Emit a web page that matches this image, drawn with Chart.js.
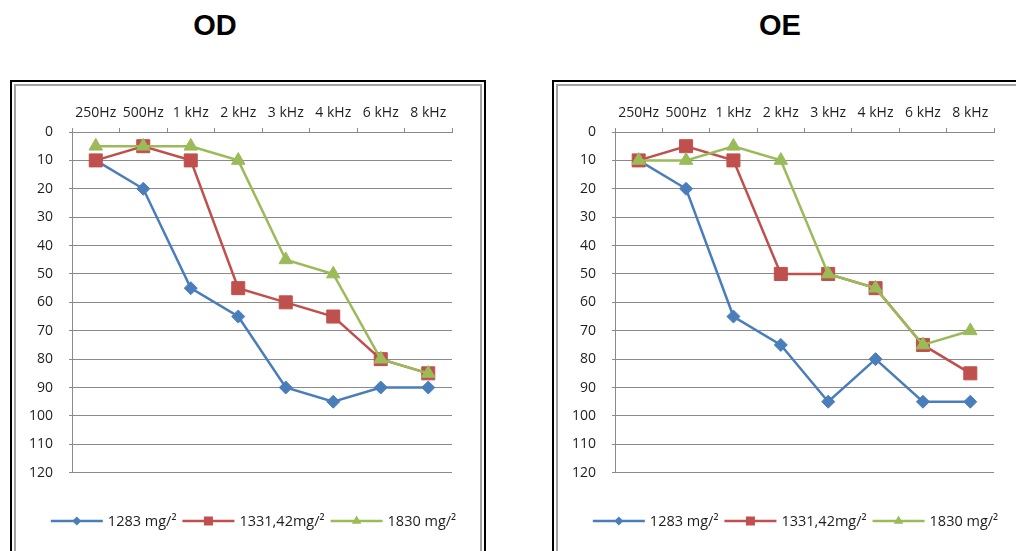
<!DOCTYPE html>
<html>
<head>
<meta charset="utf-8">
<script src="https://cdn.jsdelivr.net/npm/chart.js@4/dist/chart.umd.min.js"></script>
<style>
  html, body { margin: 0; padding: 0; background: #fff; }
  body { width: 1016px; height: 551px; overflow: hidden; position: relative; }
  .title {
    position: absolute; top: 9px; width: 120px; text-align: center;
    font: bold 29px "Liberation Sans", Arial, sans-serif; color: #000;
  }
  .box {
    position: absolute; top: 80px; width: 472px; height: 520px;
    border: 2px solid #000; box-sizing: content-box;
  }
  .inner {
    position: absolute; left: 2px; top: 2px; right: 2px; bottom: 2px;
    border: 2px solid #a3a3a3;
  }
  .inner canvas { position: absolute; left: 0; top: 0; }
</style>
</head>
<body>
<div class="title" style="left:155px">OD</div>
<div class="title" style="left:720px">OE</div>
<div class="box" style="left:10px"><div class="inner"><canvas id="od" width="464" height="465"></canvas></div></div>
<div class="box" style="left:552px"><div class="inner"><canvas id="oe" width="464" height="465"></canvas></div></div>
<script>
// Test frequencies (top axis) and hearing levels in dB (reversed y axis)
const frequencies = ['250Hz', '500Hz', '1 kHz', '2 kHz', '3 kHz', '4 kHz', '6 kHz', '8 kHz'];
const seriesLabels = ['1283 mg/\u00B2', '1331,42mg/\u00B2', '1830 mg/\u00B2'];
const levelMin = 0;
const levelMax = 120;
const levelStep = 10;

// Right ear (OD)
const odDose1283 = [10, 20, 55, 65, 90, 95, 90, 90];
const odDose1331 = [10, 5, 10, 55, 60, 65, 80, 85];
const odDose1830 = [5, 5, 5, 10, 45, 50, 80, 85];

// Left ear (OE)
const oeDose1283 = [10, 20, 65, 75, 95, 80, 95, 95];
const oeDose1331 = [10, 5, 10, 50, 50, 55, 75, 85];
const oeDose1830 = [10, 10, 5, 10, 50, 55, 75, 70];

const seriesColors = ['#4a7ebb', '#c0504d', '#9bbb59'];
const seriesMarkers = ['rectRot', 'rect', 'triangle'];
const markerRadius = [6.5, 9.2, 7.8];

const TICK_FONT = { family: "'Open Sans', 'Liberation Sans', sans-serif", size: 14 };
const TEXT_COLOR = '#1e1e1e';
const GRID_COLOR = '#8a8a8a';

// Legend drawn as Excel-style entries: a line with the marker in its middle
function drawLegendMarker(ctx, style, x, y, color) {
  ctx.fillStyle = color;
  ctx.beginPath();
  if (style === 'rectRot') {
    const s = 4.5;
    ctx.moveTo(x, y - s); ctx.lineTo(x + s, y); ctx.lineTo(x, y + s); ctx.lineTo(x - s, y);
  } else if (style === 'rect') {
    const s = 4.5;
    ctx.rect(x - s, y - s, 2 * s, 2 * s);
  } else {
    const r = 5.5;
    ctx.moveTo(x, y - r);
    ctx.lineTo(x + r * 0.866, y + r * 0.5);
    ctx.lineTo(x - r * 0.866, y + r * 0.5);
  }
  ctx.closePath();
  ctx.fill();
}

const lineLegend = {
  id: 'lineLegend',
  afterDraw(chart, args, opts) {
    const ctx = chart.ctx;
    ctx.save();
    ctx.font = opts.font;
    const items = chart.data.datasets.map(ds => ({ ds, w: ctx.measureText(ds.label).width }));
    const total = items.reduce((s, it) => s + opts.lineLen + opts.textGap + it.w, 0)
      + opts.itemGap * (items.length - 1);
    let x = opts.centerX - total / 2;
    const y = opts.y;
    items.forEach(({ ds, w }) => {
      ctx.strokeStyle = ds.borderColor;
      ctx.lineWidth = 2.5;
      ctx.beginPath();
      ctx.moveTo(x, y);
      ctx.lineTo(x + opts.lineLen, y);
      ctx.stroke();
      drawLegendMarker(ctx, ds.pointStyle, x + opts.lineLen / 2, y, ds.borderColor);
      ctx.fillStyle = TEXT_COLOR;
      ctx.textAlign = 'left';
      ctx.textBaseline = 'middle';
      ctx.fillText(ds.label, x + opts.lineLen + opts.textGap, y + 0.5);
      x += opts.lineLen + opts.textGap + w + opts.itemGap;
    });
    ctx.restore();
  }
};

function makeDatasets(series) {
  // drawn order: later series on top
  return series.map((values, i) => ({
    label: seriesLabels[i],
    data: values,
    borderColor: seriesColors[i],
    backgroundColor: seriesColors[i],
    pointBackgroundColor: seriesColors[i],
    pointBorderColor: seriesColors[i],
    pointBorderWidth: 1,
    pointStyle: seriesMarkers[i],
    pointRadius: markerRadius[i],
    pointHoverRadius: markerRadius[i],
    borderWidth: 2.5,
    tension: 0,
    order: series.length - 1 - i
  }));
}

function makeAudiogram(canvasId, series, yAxisWidth) {
  return new Chart(document.getElementById(canvasId), {
    type: 'line',
    data: { labels: frequencies, datasets: makeDatasets(series) },
    plugins: [lineLegend],
    options: {
      responsive: false,
      animation: false,
      events: [],
      layout: { padding: { left: 0, top: 0, right: 28, bottom: 78.3 } },
      plugins: {
        legend: { display: false },
        tooltip: { enabled: false },
        lineLegend: {
          font: "14.5px 'Open Sans', 'Liberation Sans', sans-serif",
          centerX: 237.5, y: 435, lineLen: 52, textGap: 5, itemGap: 6
        }
      },
      scales: {
        x: {
          position: 'top',
          offset: true,
          grid: {
            offset: true, drawOnChartArea: false, drawTicks: true,
            tickLength: 4, color: GRID_COLOR, lineWidth: 1
          },
          border: { display: true, color: GRID_COLOR, width: 1 },
          ticks: { font: TICK_FONT, color: TEXT_COLOR, padding: 7, maxRotation: 0, autoSkip: false },
          afterFit(scale) { scale.height = 46; }
        },
        y: {
          reverse: true,
          min: levelMin,
          max: levelMax,
          grid: { color: GRID_COLOR, lineWidth: 1, tickLength: 3, drawTicks: true },
          border: { display: true, color: GRID_COLOR, width: 1 },
          ticks: { stepSize: levelStep, font: TICK_FONT, color: TEXT_COLOR, padding: 16 },
          afterFit(scale) { scale.width = yAxisWidth; }
        }
      }
    }
  });
}

makeAudiogram('od', [odDose1283, odDose1331, odDose1830], 56);
makeAudiogram('oe', [oeDose1283, oeDose1331, oeDose1830], 57);
</script>
</body>
</html>
